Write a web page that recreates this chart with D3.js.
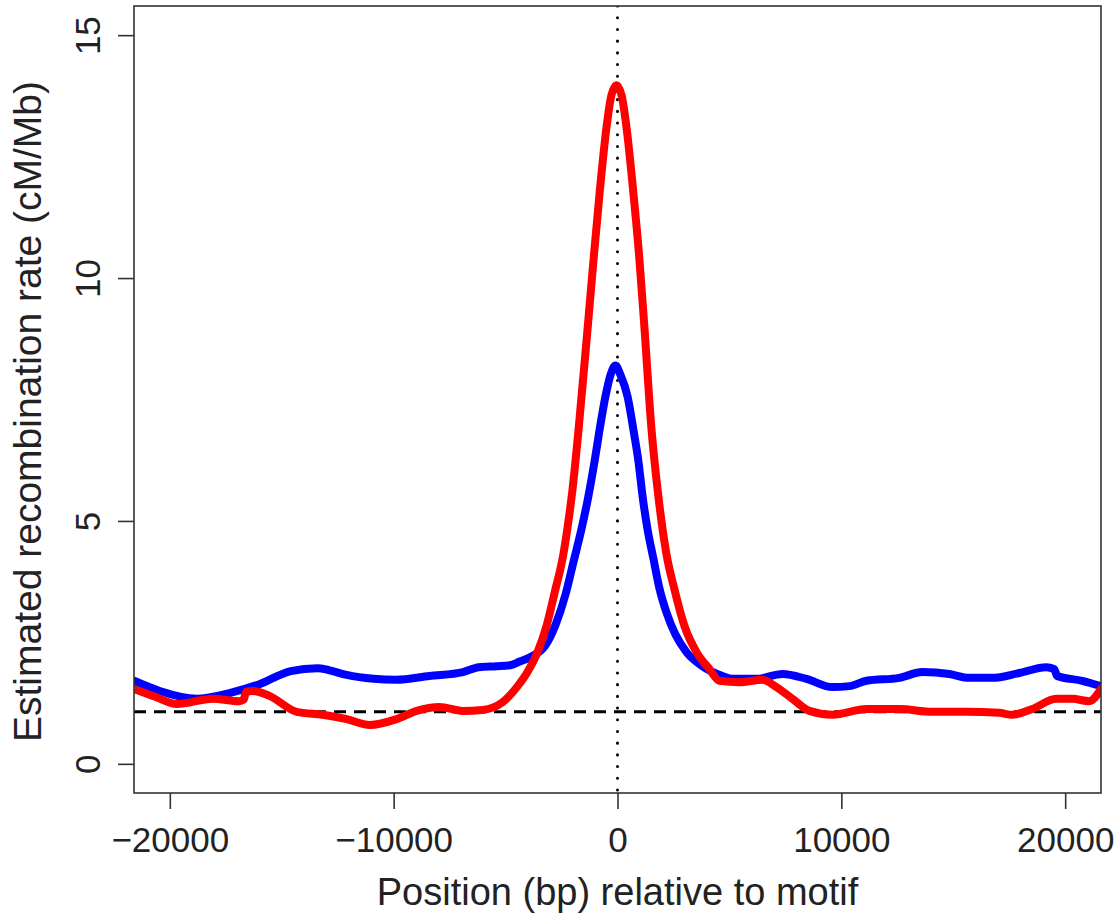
<!DOCTYPE html>
<html>
<head>
<meta charset="utf-8">
<script src="https://cdn.jsdelivr.net/npm/d3@7"></script>
<style>
  html, body { margin: 0; padding: 0; background: #fff; }
  svg { display: block; }
  text { font-family: "Liberation Sans", Arial, sans-serif; fill: #222; }
</style>
</head>
<body>
<svg id="chart" width="1119" height="917"></svg>
<script>
// ---- data ----
const xTicks = [-20000, -10000, 0, 10000, 20000];
const xTickLabels = ["\u221220000", "\u221210000", "0", "10000", "20000"];
const yTicks = [0, 5, 10, 15];
const yTickLabels = ["0", "5", "10", "15"];

const blueX = [-21600, -20450, -18800, -17300, -16000, -14600, -13400, -12900, -12100, -10900, -9900, -8400, -6900, -6200, -5400, -4800, -4400, -3800, -3250, -2770, -2320, -1960, -1610, -1300, -1030, -800, -540, -310, -90, 130, 450, 710, 940, 1120, 1340, 1610, 1880, 2200, 2600, 3080, 3790, 4690, 5130, 6200, 7370, 8440, 9600, 10360, 11120, 12590, 13620, 14820, 15710, 16740, 17950, 19150, 19510, 19640, 20760, 21600];
const blueY = [1.71, 1.50, 1.34, 1.46, 1.64, 1.91, 1.97, 1.93, 1.83, 1.75, 1.73, 1.81, 1.89, 1.99, 2.01, 2.03, 2.10, 2.22, 2.42, 2.86, 3.49, 4.17, 4.83, 5.51, 6.21, 6.88, 7.56, 8.01, 8.20, 8.01, 7.56, 6.88, 6.21, 5.51, 4.83, 4.21, 3.60, 3.10, 2.65, 2.30, 2.01, 1.81, 1.75, 1.75, 1.85, 1.75, 1.58, 1.60, 1.71, 1.77, 1.89, 1.85, 1.77, 1.77, 1.87, 1.99, 1.95, 1.81, 1.71, 1.60];

const redX = [-21600, -20650, -19700, -18080, -16900, -16700, -16600, -16300, -15550, -14330, -13170, -12100, -11070, -9870, -8970, -7950, -6920, -6030, -5130, -4460, -4020, -3570, -3170, -2770, -2460, -2230, -2010, -1740, -1340, -1070, -800, -490, -270, -45, 180, 400, 710, 980, 1200, 1520, 1790, 2190, 2540, 2990, 3530, 4110, 4550, 5450, 6470, 7100, 7810, 8570, 9600, 11120, 12590, 14060, 15580, 17050, 17630, 18530, 19600, 20310, 21070, 21600];
const redY = [1.54, 1.38, 1.23, 1.34, 1.29, 1.32, 1.48, 1.50, 1.40, 1.07, 1.01, 0.92, 0.80, 0.92, 1.09, 1.17, 1.09, 1.11, 1.27, 1.60, 1.89, 2.30, 2.84, 3.60, 4.21, 4.87, 5.65, 6.88, 8.94, 10.38, 11.75, 13.11, 13.77, 13.97, 13.77, 13.11, 11.75, 10.38, 9.00, 6.88, 5.65, 4.31, 3.60, 2.84, 2.30, 1.95, 1.71, 1.68, 1.73, 1.58, 1.34, 1.09, 1.01, 1.13, 1.13, 1.07, 1.07, 1.05, 1.01, 1.13, 1.34, 1.34, 1.29, 1.54];

const baselineRate = [1.07];   // dashed horizontal reference
const motifPosition = [0];     // dotted vertical reference

const xTitle = "Position (bp) relative to motif";
const yTitle = "Estimated recombination rate (cM/Mb)";

// ---- layout ----
const W = 1119, H = 917;
const m = { left: 134, top: 6, right: 18, bottom: 124 };
const svg = d3.select("#chart");

const x = d3.scaleLinear().domain([-21600, 21600]).range([m.left, W - m.right]);
const y = d3.scaleLinear().domain([-0.6, 15.6]).range([H - m.bottom, m.top]);

svg.append("defs").append("clipPath").attr("id", "clip")
  .append("rect").attr("x", m.left).attr("y", m.top)
  .attr("width", W - m.left - m.right).attr("height", H - m.top - m.bottom);

const plot = svg.append("g").attr("clip-path", "url(#clip)");

// reference lines
plot.selectAll("line.h").data(baselineRate).join("line")
  .attr("x1", m.left).attr("x2", W - m.right)
  .attr("y1", d => y(d)).attr("y2", d => y(d))
  .attr("stroke", "#000").attr("stroke-width", 3)
  .attr("stroke-dasharray", "12,8");

plot.selectAll("line.v").data(motifPosition).join("line")
  .attr("x1", d => x(d)).attr("x2", d => x(d))
  .attr("y1", m.top).attr("y2", H - m.bottom)
  .attr("stroke", "#000").attr("stroke-width", 3)
  .attr("stroke-linecap", "round")
  .attr("stroke-dasharray", "0.1,11.6");

const line = d3.line().x(d => x(d[0])).y(d => y(d[1])).curve(d3.curveMonotoneX);

const blue = blueX.map((v, i) => [v, blueY[i]]);
const red = redX.map((v, i) => [v, redY[i]]);

plot.append("path").datum(blue).attr("d", line)
  .attr("fill", "none").attr("stroke", "#0000ff").attr("stroke-width", 8)
  .attr("stroke-linejoin", "round").attr("stroke-linecap", "round");
plot.append("path").datum(red).attr("d", line)
  .attr("fill", "none").attr("stroke", "#ff0000").attr("stroke-width", 8)
  .attr("stroke-linejoin", "round").attr("stroke-linecap", "round");

// frame
svg.append("rect").attr("x", m.left).attr("y", m.top)
  .attr("width", W - m.left - m.right).attr("height", H - m.top - m.bottom)
  .attr("fill", "none").attr("stroke", "#333").attr("stroke-width", 1.6);

// x axis
const xAxis = d3.axisBottom(x).tickValues(xTicks)
  .tickFormat((d, i) => xTickLabels[i]).tickSize(16).tickPadding(18);
const gx = svg.append("g").attr("transform", `translate(0,${H - m.bottom})`).call(xAxis);
gx.select(".domain").remove();
gx.selectAll(".tick line").attr("stroke", "#333").attr("stroke-width", 1.6);
gx.selectAll(".tick text").attr("font-size", 35).attr("fill", "#222")
  .attr("font-family", "'Liberation Sans', Arial, sans-serif");

// y axis
const yAxis = d3.axisLeft(y).tickValues(yTicks)
  .tickFormat((d, i) => yTickLabels[i]).tickSize(16);
const gy = svg.append("g").attr("transform", `translate(${m.left},0)`).call(yAxis);
gy.select(".domain").remove();
gy.selectAll(".tick line").attr("stroke", "#333").attr("stroke-width", 1.6);
gy.selectAll(".tick text")
  .attr("x", null).attr("dy", null)
  .attr("transform", "translate(-34,0) rotate(-90)")
  .attr("text-anchor", "middle")
  .attr("font-size", 35).attr("fill", "#222")
  .attr("font-family", "'Liberation Sans', Arial, sans-serif");

// titles
svg.append("text")
  .attr("x", (m.left + W - m.right) / 2).attr("y", 905)
  .attr("text-anchor", "middle").attr("font-size", 38)
  .text(xTitle);

svg.append("text")
  .attr("transform", `translate(41,${(m.top + H - m.bottom) / 2 + 12}) rotate(-90)`)
  .attr("text-anchor", "middle").attr("font-size", 39)
  .text(yTitle);
</script>
</body>
</html>
